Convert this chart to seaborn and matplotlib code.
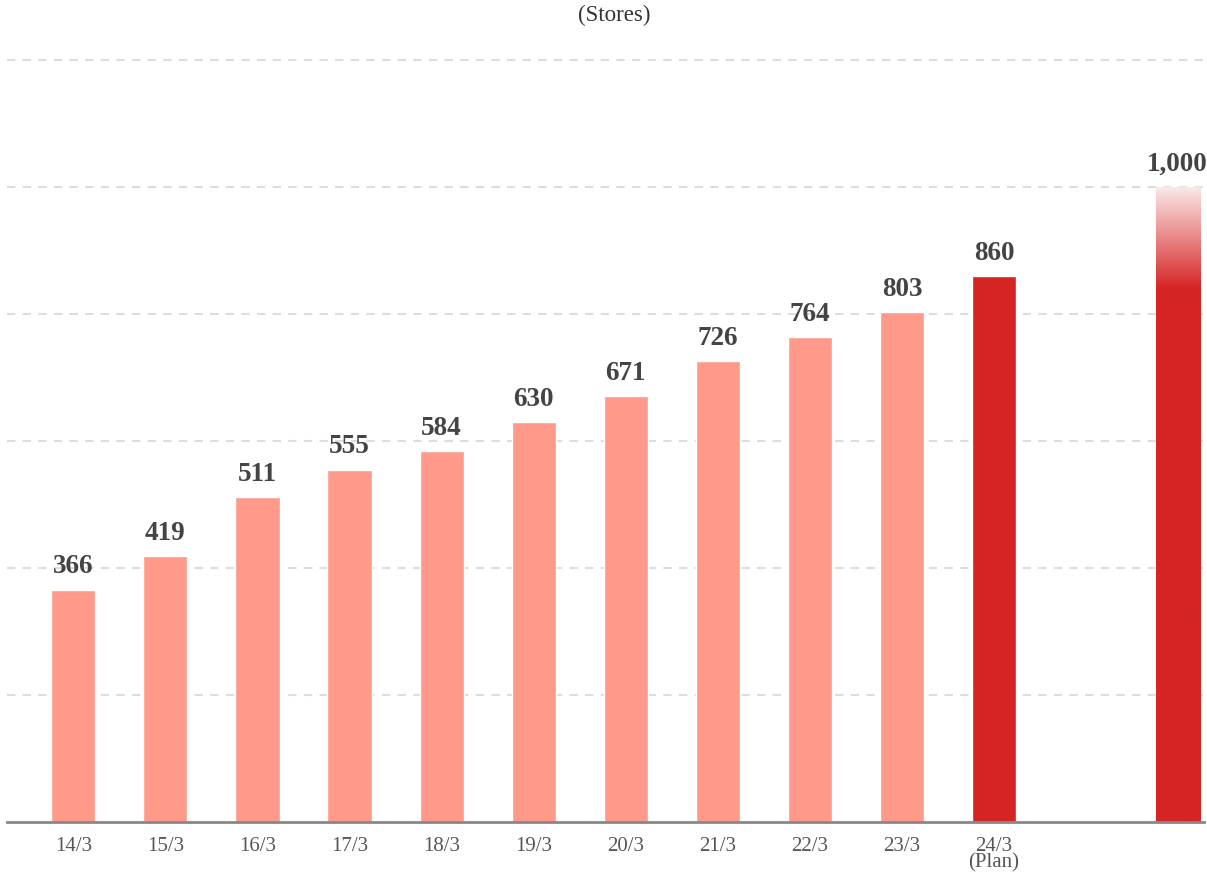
import numpy as np
import pandas as pd
import seaborn as sns
import matplotlib.pyplot as plt

# Store counts by fiscal year
years = ["14/3", "15/3", "16/3", "17/3", "18/3", "19/3", "20/3",
         "21/3", "22/3", "23/3", "24/3\n(Plan)", "target"]
stores = [366, 419, 511, 555, 584, 630, 671, 726, 764, 803, 860, 1000]
order = years[:11] + ["gap", "target"]
tick_labels = years[:11] + ["", ""]

light = "#FF9A8A"
dark = "#D62424"
colors = {y: light for y in years}
colors["24/3\n(Plan)"] = dark
colors["target"] = dark

df = pd.DataFrame({"year": years, "stores": stores})

sns.set_style("white")
plt.rcParams["font.family"] = ["Liberation Serif", "DejaVu Serif"]

fig = plt.figure(figsize=(12.07, 8.79), dpi=100)
ax = fig.add_axes([7 / 1207, 56 / 879, 1197 / 1207, 768.4 / 879])

sns.barplot(data=df, x="year", y="stores", hue="year", order=order,
            palette=colors, width=0.48, legend=False, saturation=1, ax=ax)

ax.set_xlim(-0.72, 12.28)
ax.set_ylim(0, 1210)
ax.set_yticks([200, 400, 600, 800, 1000, 1200])
ax.yaxis.grid(True, color="#dddddd", linestyle=(0, (4, 3.5)), linewidth=1.5)
ax.set_axisbelow(True)
ax.set_yticklabels([])
ax.tick_params(axis="y", length=0)
ax.set_xticks(range(len(order)))
ax.set_xticklabels(tick_labels, fontsize=15, color="#555555", linespacing=0.8)
ax.tick_params(axis="x", length=0, pad=10)
ax.set_xlabel("")
ax.set_ylabel("")
for s in ["top", "right", "left"]:
    ax.spines[s].set_visible(False)
ax.spines["bottom"].set_color("#888888")
ax.spines["bottom"].set_linewidth(2)

# gradient fill on the target bar
target = ax.patches[-1]
x0, x1 = target.get_x(), target.get_x() + target.get_width()
h = target.get_height()
v = np.linspace(0, h, 400)
alpha = np.clip(1 - (v - 840) / (h - 840) * 0.9, 0.1, 1.0)
rgba = np.zeros((len(v), 1, 4))
rgba[..., :3] = np.array([0xD6, 0x24, 0x24]) / 255
rgba[:, 0, 3] = alpha
target.set_facecolor("white")
img = ax.imshow(rgba, extent=[x0, x1, 0, h], origin="lower", aspect="auto",
                zorder=target.get_zorder() + 0.1)
img.set_clip_path(target)

for p, val in zip(ax.patches, stores):
    ax.annotate(f"{val:,}", (p.get_x() + p.get_width() / 2, p.get_height()),
                xytext=(-1 if val >= 1000 else 0, 8), textcoords="offset points",
                ha="center", va="bottom", fontsize=19.5, fontweight="bold",
                color="#444444")

fig.text(614 / 1207, 1 - 15 / 879, "(Stores)", ha="center", va="center",
         fontsize=16.5, color="#333333")

fig.savefig("out.png", dpi=100)
